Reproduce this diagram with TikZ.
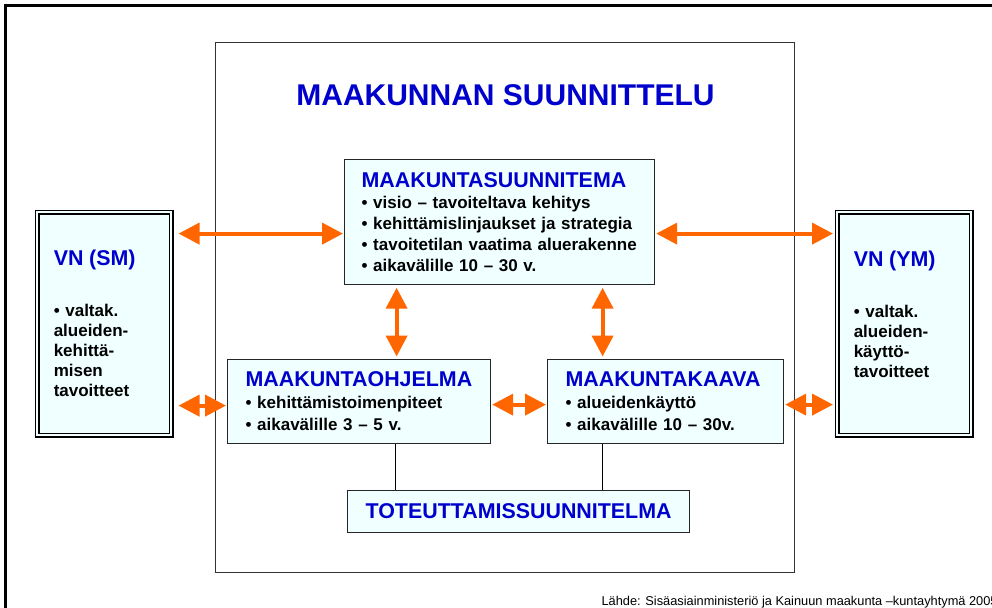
\documentclass[tikz,border=0pt]{standalone}
\usepackage{fontspec}
\setmainfont{Liberation Sans}
\usetikzlibrary{shapes,calc}
\usetikzlibrary{arrows.meta}

\definecolor{headblue}{RGB}{0,0,204}
\definecolor{boxfill}{RGB}{240,255,255}
\definecolor{arroworange}{RGB}{255,102,0}
\newcommand{\boxhead}[1]{{\color{headblue}\fontsize{21.4}{20.8}\selectfont #1}}

\begin{document}
\begin{tikzpicture}[x=1pt, y=-1pt]
	\tikzstyle{block} = [rectangle, anchor=north west, draw=black!85, line width=1.2pt, fill=boxfill, align=left, inner ysep=0pt, font=\bfseries\fontsize{17}{20.8}\selectfont]
	\tikzstyle{vnbox} = [block, draw=black, line width=1.5pt, double=boxfill, double distance=2pt, font=\bfseries\fontsize{17}{20}\selectfont]
	\tikzstyle{arrow} = [line width=4pt, draw=arroworange, <->, >={Triangle[length=21pt,width=21pt]}, shorten <=1pt, shorten >=1pt]
	\tikzstyle{line} = [line width=1.5pt, draw=black]

	\useasboundingbox (0,0) rectangle (992,607);
	\clip (0,0) rectangle (992,607);
	% frames
	\draw [line width=3pt] (5.5,5.5) rectangle (1010,630);
	\draw [line width=1pt, draw=black!80] (215,43) rectangle (794,572);

	\node (title) [anchor=base, text=headblue, font=\bfseries\fontsize{30}{36}\selectfont] at (505.5,106) {MAAKUNNAN SUUNNITTELU};

	\node (plan) [block, minimum width=310pt, text width=276pt, minimum height=125pt, inner xsep=17pt] at (344,159) {\boxhead{MAAKUNTASUUNNITEMA}\\ • visio – tavoiteltava kehitys\\ • kehittämislinjaukset ja strategia\\ • tavoitetilan vaatima aluerakenne\\ • aikavälille 10 – 30 v.};
	\node (prog) [block, minimum width=263pt, text width=227pt, minimum height=84pt, inner xsep=18pt] at (227,359) {\boxhead{MAAKUNTAOHJELMA}\\[1.2pt] • kehittämistoimenpiteet\\[1.2pt] • aikavälille 3 – 5 v.};
	\node (kaava) [block, minimum width=236pt, text width=200pt, minimum height=84pt, inner xsep=18pt] at (547,359) {\boxhead{MAAKUNTAKAAVA}\\[1.2pt] • alueidenkäyttö\\[1.2pt] • aikavälille 10 – 30v.};
	\node (toteutus) [block, minimum width=342pt, text width=342pt, inner xsep=0pt, minimum height=42pt, align=center] at (347,490) {\boxhead{TOTEUTTAMISSUUNNITELMA}};

	\node (vnsm) [vnbox, minimum width=134pt, text width=101pt, minimum height=223pt, inner xsep=16.5pt] at (36.5,211.5) {\boxhead{VN (SM)}\\[31pt] • valtak.\\ alueiden-\\ kehittä-\\ misen\\ tavoitteet};
	\node (vnym) [vnbox, minimum width=134pt, text width=101pt, minimum height=223pt, inner xsep=16.5pt] at (836.5,211.5) {\boxhead{VN (YM)}\\[31pt] • valtak.\\ alueiden-\\ käyttö-\\ tavoitteet\\ \mbox{}};

	\draw [arrow, shorten >=6.5pt] ([yshift=-11.5pt]plan.west) -- ([yshift=-11.5pt]plan.west -| vnsm.east);
	\draw [arrow, shorten >=3.5pt] ([yshift=-11.5pt]plan.east) -- ([yshift=-11.5pt]plan.east -| vnym.west);
	\draw [arrow, shorten >=6.5pt] ([yshift=-4pt]prog.west) -- ([yshift=-4pt]prog.west -| vnsm.east);
	\draw [arrow] ([yshift=-3pt]prog.east) -- ([yshift=-3pt]prog.east -| kaava.west);
	\draw [arrow, shorten >=3.5pt] ([yshift=-3pt]kaava.east) -- ([yshift=-3pt]kaava.east -| vnym.west);
	\draw [arrow, shorten <=2.5pt, shorten >=2.5pt] ([xshift=37.5pt]prog.north) -- ([xshift=37.5pt]prog.north |- plan.south);
	\draw [arrow, shorten <=2.5pt, shorten >=2.5pt] ([xshift=-63pt]kaava.north) -- ([xshift=-63pt]kaava.north |- plan.south);
	\draw [line] ([xshift=36.5pt]prog.south) -- ([xshift=36.5pt]prog.south |- toteutus.north);
	\draw [line] ([xshift=-63pt]kaava.south) -- ([xshift=-63pt]kaava.south |- toteutus.north);

	\node (source) [anchor=base west, font=\fontsize{12.8}{14}\selectfont] at (598,605.5) {Lähde: Sisäasiainministeriö ja Kainuun maakunta –kuntayhtymä 2005};
\end{tikzpicture}
\end{document}
